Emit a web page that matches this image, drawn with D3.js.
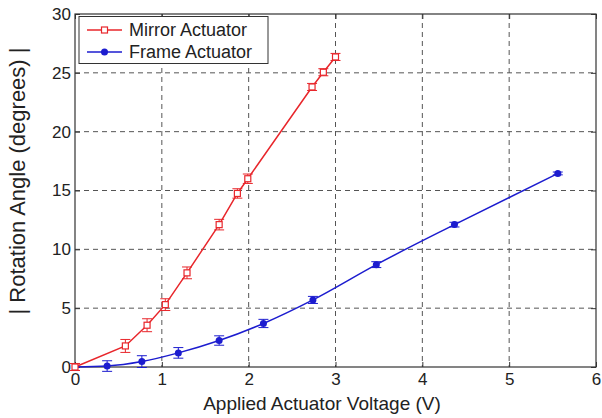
<!DOCTYPE html>
<html><head><meta charset="utf-8">
<script src="https://cdn.jsdelivr.net/npm/d3@7"></script>
<style>body{margin:0;background:#fff}svg{display:block}text{font-family:"Liberation Sans",Arial,sans-serif;fill:#222}</style>
</head><body>
<svg id="c" width="602" height="418"></svg>
<script>
const xTicks = [0,1,2,3,4,5,6];
const yTicks = [0,5,10,15,20,25,30];
const mirrorV = [0,0.58,0.83,1.04,1.29,1.66,1.87,1.99,2.73,2.86,3.0];
const mirrorA = [0,1.79,3.55,5.3,8.0,12.1,14.75,16.0,23.8,25.05,26.35];
const mirrorE = [0.3,0.55,0.55,0.5,0.5,0.45,0.4,0.4,0.3,0.3,0.3];
const frameV = [0,0.37,0.77,1.19,1.66,2.17,2.74,3.47,4.37,5.56];
const frameA = [0,0.08,0.46,1.2,2.25,3.7,5.7,8.7,12.1,16.45];
const frameE = [0,0.45,0.5,0.45,0.4,0.35,0.3,0.25,0.2,0.12];
const seriesNames = ["Mirror Actuator","Frame Actuator"];

const svg = d3.select("#c");
const L=75, R=596, T=14, B=367;
const x = d3.scaleLinear().domain([0,6]).range([L,R]);
const y = d3.scaleLinear().domain([0,30]).range([B,T]);
const red="#e8262b", blue="#1c1ccf";

// grid
const g = svg.append("g");
g.selectAll(".gx").data(xTicks.slice(1,-1)).join("line")
 .attr("x1",d=>x(d)).attr("x2",d=>x(d)).attr("y1",T).attr("y2",B)
 .attr("stroke","#555").attr("stroke-dasharray","5,4").attr("stroke-width",1);
g.selectAll(".gy").data(yTicks.slice(1,-1)).join("line")
 .attr("y1",d=>y(d)).attr("y2",d=>y(d)).attr("x1",L).attr("x2",R)
 .attr("stroke","#555").attr("stroke-dasharray","5,4").attr("stroke-width",1);

// axes
const ax = d3.axisBottom(x).tickValues(xTicks).tickSize(-5).tickPadding(6).tickFormat(d3.format("d"));
const ay = d3.axisLeft(y).tickValues(yTicks).tickSize(-5).tickPadding(4).tickFormat(d3.format("d"));
const axT = d3.axisTop(x).tickValues(xTicks).tickSize(-5).tickFormat("");
const ayR = d3.axisRight(y).tickValues(yTicks).tickSize(-5).tickFormat("");
function style(sel){sel.select(".domain").remove();sel.selectAll("line").attr("stroke","#333");sel.selectAll("text").attr("font-size",17).attr("fill","#222").attr("font-family","Liberation Sans, Arial, sans-serif");}
svg.append("g").attr("transform",`translate(0,${B})`).call(ax).call(style);
svg.append("g").attr("transform",`translate(${L},0)`).call(ay).call(style);
svg.append("g").attr("transform",`translate(0,${T})`).call(axT).call(style);
svg.append("g").attr("transform",`translate(${R},0)`).call(ayR).call(style);
svg.append("rect").attr("x",L).attr("y",T).attr("width",R-L).attr("height",B-T).attr("fill","none").attr("stroke","#333").attr("stroke-width",1.2);

// data
const mirror = mirrorV.map((v,i)=>({v,a:mirrorA[i],e:mirrorE[i]}));
const frame = frameV.map((v,i)=>({v,a:frameA[i],e:frameE[i]}));

function errBars(data,color){
  const eg = svg.append("g").attr("stroke",color).attr("stroke-width",1);
  data.filter(d=>d.e>0).forEach(d=>{
    eg.append("line").attr("x1",x(d.v)).attr("x2",x(d.v)).attr("y1",y(d.a-d.e)).attr("y2",y(d.a+d.e));
    [d.a-d.e,d.a+d.e].forEach(t=>eg.append("line").attr("x1",x(d.v)-5).attr("x2",x(d.v)+5).attr("y1",y(t)).attr("y2",y(t)));
  });
}
svg.append("path").datum(mirror).attr("fill","none").attr("stroke",red).attr("stroke-width",1.5)
 .attr("d",d3.line().x(d=>x(d.v)).y(d=>y(d.a)));
svg.append("path").datum(frame).attr("fill","none").attr("stroke",blue).attr("stroke-width",1.5)
 .attr("d",d3.line().x(d=>x(d.v)).y(d=>y(d.a)).curve(d3.curveMonotoneX));
errBars(mirror,red);
errBars(frame,blue);
svg.append("g").selectAll("rect").data(mirror).join("rect")
 .attr("x",d=>x(d.v)-3).attr("y",d=>y(d.a)-3).attr("width",6).attr("height",6)
 .attr("fill","#fff").attr("stroke",red).attr("stroke-width",1.2);
svg.append("g").selectAll("circle").data(frame.slice(1)).join("circle")
 .attr("cx",d=>x(d.v)).attr("cy",d=>y(d.a)).attr("r",3.5).attr("fill",blue);

// legend
const lg = svg.append("g");
lg.append("rect").attr("x",79).attr("y",16.5).attr("width",189).attr("height",47).attr("fill","#fff").attr("stroke","#333").attr("stroke-width",1);
[[red,30],[blue,52]].forEach(([c,yy],i)=>{
  lg.append("line").attr("x1",87).attr("x2",122).attr("y1",yy).attr("y2",yy).attr("stroke",c).attr("stroke-width",1.5);
  if(i===0) lg.append("rect").attr("x",101.5).attr("y",yy-3).attr("width",6).attr("height",6).attr("fill","#fff").attr("stroke",c).attr("stroke-width",1.2);
  else lg.append("circle").attr("cx",104.5).attr("cy",yy).attr("r",3.5).attr("fill",c);
  lg.append("text").attr("x",129).attr("y",yy+6).attr("font-size",18).text(seriesNames[i]);
});

// titles
svg.append("text").attr("x",322).attr("y",410).attr("text-anchor","middle").attr("font-size",19).text("Applied Actuator Voltage (V)");
svg.append("text").attr("transform",`translate(25,181) rotate(-90)`).attr("text-anchor","middle").attr("font-size",22).text("| Rotation Angle (degrees) |");
</script>
</body></html>
